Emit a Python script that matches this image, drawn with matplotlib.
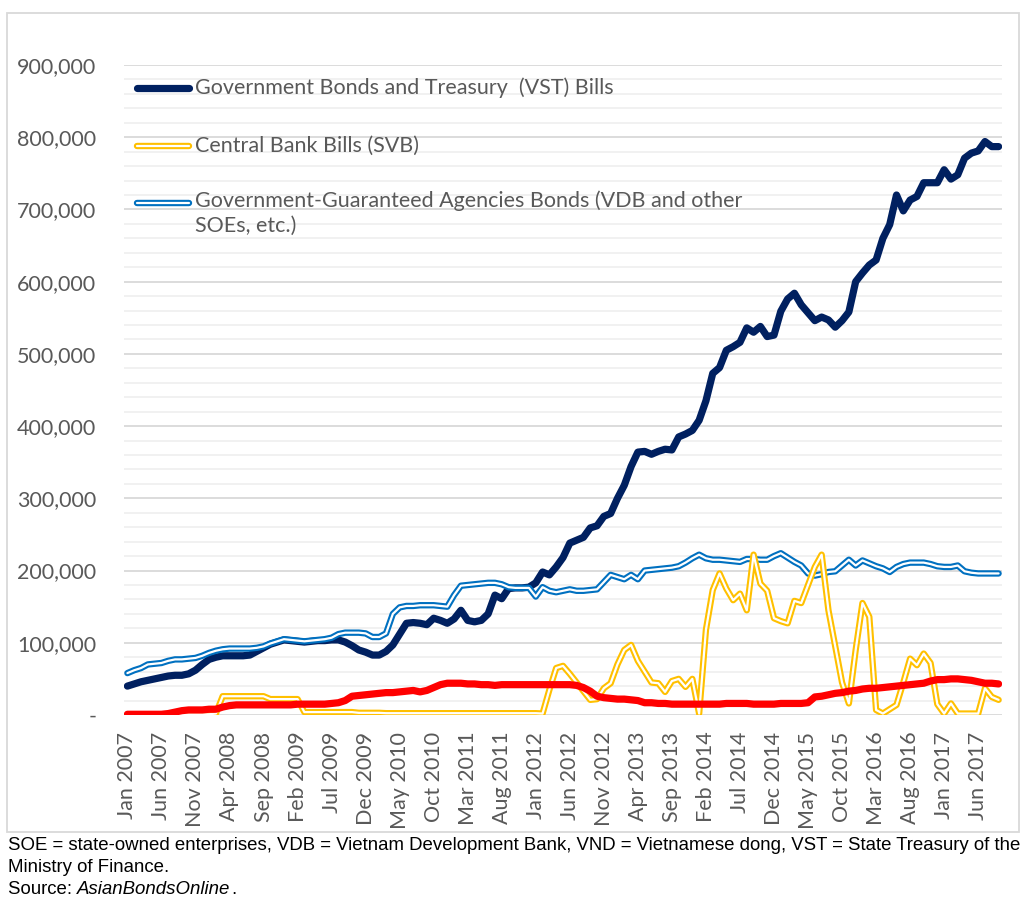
import numpy as np
import pandas as pd
import matplotlib
matplotlib.use('Agg')
import matplotlib.pyplot as plt
from matplotlib.ticker import FuncFormatter, MultipleLocator
from matplotlib.patches import Rectangle

# ---------------- data (VND billion, monthly Jan 2007 - Sep 2017) ----------------
months = pd.date_range('2007-01-01', periods=129, freq='MS')
month_labels = [d.strftime('%b %Y') for d in months]

gov_bonds = [40, 43, 46, 48, 50, 52, 54, 55, 55, 57,
             62, 70, 77, 80, 82, 82, 82, 82, 83, 88,
             93, 98, 101, 104, 103, 102, 101, 102, 103, 103,
             104, 104, 101, 96, 90, 87, 83, 83, 88, 97,
             112, 127, 128, 127, 125, 134, 131, 127, 133, 145,
             131, 129, 131, 140, 166, 161, 175, 176, 176, 177,
             183, 198, 194, 205, 218, 238, 242, 246, 259, 262,
             275, 279, 300, 318, 344, 364, 365, 361, 365, 368,
             367, 385, 389, 394, 408, 435, 473, 481, 505, 510,
             516, 536, 530, 538, 524, 526, 559, 576, 584, 568,
             557, 546, 551, 547, 537, 546, 558, 600, 612, 623,
             630, 660, 679, 720, 698, 713, 718, 737, 737, 737,
             755, 742, 748, 771, 778, 781, 794, 787, 787]

central_bank = [0, 0, 0, 0, 0, 0, 0, 0, 1, 1,
                1, 1, 1, 2, 26, 26, 26, 26, 26, 26,
                26, 22, 22, 22, 22, 22, 4, 4, 4, 4,
                4, 4, 4, 4, 3, 3, 3, 3, 2.5, 2.5,
                2.5, 2.5, 2.5, 2.5, 2.5, 2.5, 2.5, 2.5, 2.5, 2.5,
                2.5, 2.5, 2.5, 2.5, 2.5, 2.5, 2.5, 2.5, 2.5, 2.5,
                2.5, 2, 35, 65, 68, 57, 45, 33, 21, 22,
                37, 44, 70, 90, 97, 75, 60, 45, 44, 32,
                47, 50, 39, 50, 2, 118, 173, 196, 175, 159,
                168, 145, 222, 182, 172, 134, 130, 127, 158, 155,
                180, 205, 222, 145, 95, 45, 16, 90, 155, 136,
                7, 2, 8, 14, 45, 78, 69, 85, 72, 15,
                2, 16, 2, 2, 2, 2, 37, 25, 21]

gov_guaranteed = [58, 62, 65, 70, 71, 72, 75, 77, 77, 78,
                  79, 82, 86, 89, 91, 92, 92, 92, 92, 93,
                  95, 99, 102, 105, 104, 103, 102, 103, 104, 105,
                  107, 112, 114, 114, 114, 113, 108, 108, 113, 140,
                  149, 151, 151, 152, 152, 152, 151, 150, 166, 179,
                  180, 181, 182, 183, 183, 181, 177, 176, 176, 176,
                  164, 177, 172, 170, 172, 174, 172, 172, 173, 174,
                  184, 194, 191, 188, 194, 188, 200, 201, 202, 203,
                  204, 206, 211, 217, 222, 217, 215, 215, 214, 213,
                  212, 216, 216, 215, 215, 220, 224, 218, 212, 207,
                  196, 193, 195, 198, 199, 207, 215, 207, 214, 210,
                  206, 203, 198, 205, 209, 211, 211, 211, 209, 206,
                  205, 205, 207, 199, 197, 196, 196, 196, 196]

corporate = [1, 1, 1, 1, 1, 1, 2, 4, 6, 7,
             7, 7, 8, 8, 11, 13, 14, 14, 14, 14,
             14, 14, 14, 14, 14, 15, 15, 15, 15, 15,
             16, 17, 20, 26, 27, 28, 29, 30, 31, 31,
             32, 33, 34, 32, 34, 38, 42, 44, 44, 44,
             43, 43, 42, 42, 41, 42, 42, 42, 42, 42,
             42, 42, 42, 42, 42, 42, 41, 38, 33, 26,
             24, 23, 22, 22, 21, 20, 17, 17, 16, 16,
             15, 15, 15, 15, 15, 15, 15, 15, 16, 16,
             16, 16, 15, 15, 15, 15, 16, 16, 16, 16,
             17, 25, 26, 28, 30, 31, 33, 34, 36, 37,
             37, 38, 39, 40, 41, 42, 43, 44, 47, 49,
             49, 50, 50, 49, 48, 46, 44, 44, 43]

legend_labels = ['Government Bonds and Treasury  (VST) Bills',
                 'Central Bank Bills (SVB)',
                 'Government-Guaranteed Agencies Bonds (VDB and other\nSOEs, etc.)']

footnote_1 = ('SOE = state-owned enterprises, VDB = Vietnam Development Bank, '
              'VND = Vietnamese dong, VST = State Treasury of the')
footnote_2 = 'Ministry of Finance.'
source_prefix = 'Source: '
source_name = 'AsianBondsOnline'

# ---------------- styling ----------------
NAVY = '#002060'
YELLOW = '#FFC000'
BLUE = '#0070C0'
RED = '#FF0000'
TXT = '#595959'
TICK_FONT = 'Lato'
FS = 15.5
OUTER, INNER = 4.6, 1.6

W, H = 1035, 909
fig = plt.figure(figsize=(W / 100, H / 100), dpi=100)


def fx(px):
    return px / W


def fy(py):
    return 1 - py / H


ax = fig.add_axes([fx(124), fy(715), (1002 - 124) / W, (715 - 65) / H])
x = np.arange(len(months))
scale = 1000.0

ax.plot(x, np.array(gov_bonds) * scale, color=NAVY, lw=5.2,
        solid_capstyle='round', solid_joinstyle='round', zorder=3)
ax.plot(x, np.array(gov_guaranteed) * scale, color=BLUE, lw=OUTER,
        solid_capstyle='round', solid_joinstyle='round', zorder=4)
ax.plot(x, np.array(gov_guaranteed) * scale, color='white', lw=INNER,
        solid_capstyle='round', solid_joinstyle='round', zorder=4)
ax.plot(x, np.array(central_bank) * scale, color=YELLOW, lw=OUTER,
        solid_capstyle='round', solid_joinstyle='round', zorder=5)
ax.plot(x, np.array(central_bank) * scale, color='white', lw=INNER,
        solid_capstyle='round', solid_joinstyle='round', zorder=5)
ax.plot(x, np.array(corporate) * scale, color=RED, lw=5.2,
        solid_capstyle='round', solid_joinstyle='round', zorder=6)

ax.set_xlim(-0.5, len(months) - 0.5)
ax.set_ylim(0, 900000)
ax.yaxis.set_major_locator(MultipleLocator(100000))
ax.yaxis.set_minor_locator(MultipleLocator(20000))
ax.yaxis.set_major_formatter(FuncFormatter(lambda v, p: '-' if v == 0 else f'{int(round(v)):,}'))
ax.grid(which='major', axis='y', color='#D9D9D9', lw=1.3, zorder=0)
ax.grid(which='minor', axis='y', color='#F0F0F0', lw=1.3, zorder=0)
ax.set_axisbelow(True)
for s in ax.spines.values():
    s.set_visible(False)

ax.set_xticks(x[::5])
ax.set_xticklabels(month_labels[::5], rotation=90, fontfamily=TICK_FONT,
                   fontsize=FS, color=TXT)
ax.tick_params(axis='x', length=0, pad=12)
ax.tick_params(axis='y', which='both', length=0, pad=20, labelsize=FS, labelcolor=TXT)
for t in ax.get_yticklabels():
    t.set_fontfamily(TICK_FONT)

# ---------------- manual legend (upper left inside plot) ----------------
rows_y = [88, 146, 203]
handle_styles = [
    [(NAVY, 5.2)],
    [(YELLOW, OUTER), ('white', INNER)],
    [(BLUE, OUTER), ('white', INNER)],
]
for ry, label, styles in zip(rows_y, legend_labels, handle_styles):
    for col, lw in styles:
        fig.add_artist(plt.Line2D([fx(137), fx(189)], [fy(ry), fy(ry)],
                                  transform=fig.transFigure, color=col, lw=lw,
                                  solid_capstyle='round'))
    multi = '\n' in label
    fig.text(fx(195), fy(ry - 13) if multi else fy(ry), label,
             fontfamily=TICK_FONT, fontsize=FS, color=TXT,
             va='top' if multi else 'center', linespacing=1.35)

# ---------------- border and footnotes ----------------
fig.add_artist(Rectangle((fx(7), fy(832)), fx(1019) - fx(7), fy(13) - fy(832),
                         transform=fig.transFigure, fill=False,
                         edgecolor='#D9D9D9', lw=1.3))

FN = 'Liberation Sans'
FNS = 13.4
fig.text(fx(8), fy(846), footnote_1, fontfamily=FN, fontsize=FNS, color='black', va='center')
fig.text(fx(8), fy(868), footnote_2, fontfamily=FN, fontsize=FNS, color='black', va='center')
t1 = fig.text(fx(8), fy(890), source_prefix, fontfamily=FN, fontsize=FNS, color='black', va='center')
fig.canvas.draw()
r = fig.canvas.get_renderer()
bb = t1.get_window_extent(renderer=r)
t2 = fig.text(bb.x1 / W, fy(890), source_name, fontfamily=FN, fontsize=FNS,
              fontstyle='italic', color='black', va='center')
bb2 = t2.get_window_extent(renderer=r)
fig.text((bb2.x1 + 0.5) / W, fy(890), '.', fontfamily=FN, fontsize=FNS, color='black', va='center')

fig.savefig('out.png', dpi=100, facecolor='white')
